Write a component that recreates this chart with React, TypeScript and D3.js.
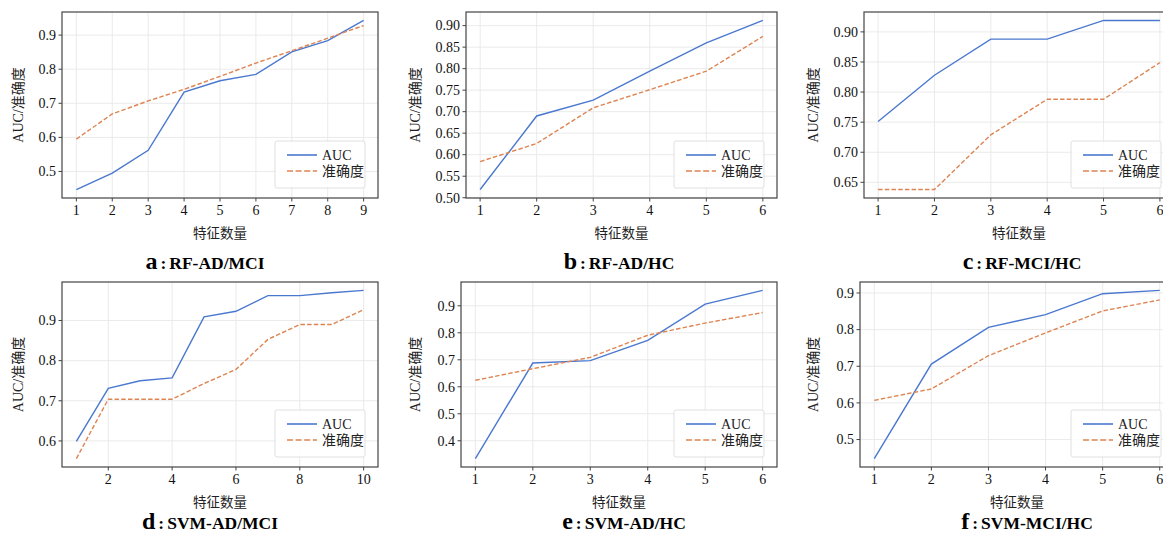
import React from 'react';
import * as d3 from 'd3';

// feature counts
const featA = [1, 2, 3, 4, 5, 6, 7, 8, 9];
const featB = [1, 2, 3, 4, 5, 6];
const featC = [1, 2, 3, 4, 5, 6];
const featD = [1, 2, 3, 4, 5, 6, 7, 8, 9, 10];
const featE = [1, 2, 3, 4, 5, 6];
const featF = [1, 2, 3, 4, 5, 6];

// AUC per panel
const aucA = [0.447, 0.495, 0.562, 0.733, 0.766, 0.785, 0.851, 0.884, 0.943];
const aucB = [0.519, 0.690, 0.727, 0.794, 0.860, 0.912];
const aucC = [0.751, 0.828, 0.888, 0.888, 0.919, 0.919];
const aucD = [0.599, 0.731, 0.750, 0.757, 0.909, 0.923, 0.962, 0.962, 0.969, 0.975];
const aucE = [0.334, 0.688, 0.697, 0.772, 0.906, 0.957];
const aucF = [0.448, 0.706, 0.806, 0.841, 0.898, 0.907];

// 准确度 per panel
const accA = [0.595, 0.669, 0.707, 0.741, 0.779, 0.818, 0.854, 0.891, 0.928];
const accB = [0.584, 0.626, 0.709, 0.751, 0.794, 0.875];
const accC = [0.638, 0.638, 0.729, 0.788, 0.788, 0.849];
const accD = [0.556, 0.704, 0.704, 0.704, 0.743, 0.778, 0.853, 0.890, 0.890, 0.927];
const accE = [0.624, 0.667, 0.709, 0.791, 0.836, 0.875];
const accF = [0.607, 0.638, 0.729, 0.791, 0.851, 0.881];

// tick labels
const xTicksA = [1, 2, 3, 4, 5, 6, 7, 8, 9];
const xTicks6 = [1, 2, 3, 4, 5, 6];
const xTicksD = [2, 4, 6, 8, 10];
const yTicksA = [0.5, 0.6, 0.7, 0.8, 0.9];
const yTicksB = [0.5, 0.55, 0.6, 0.65, 0.7, 0.75, 0.8, 0.85, 0.9];
const yTicksC = [0.65, 0.7, 0.75, 0.8, 0.85, 0.9];
const yTicksD = [0.6, 0.7, 0.8, 0.9];
const yTicksE = [0.4, 0.5, 0.6, 0.7, 0.8, 0.9];
const yTicksF = [0.5, 0.6, 0.7, 0.8, 0.9];

const letters = ['a', 'b', 'c', 'd', 'e', 'f'];
const titles = ['RF-AD/MCI', 'RF-AD/HC', 'RF-MCI/HC', 'SVM-AD/MCI', 'SVM-AD/HC', 'SVM-MCI/HC'];

const BLUE = '#4a78cf';
const ORANGE = '#dd8452';
const FONT = '"Liberation Serif","Times New Roman","Noto Sans CJK SC",serif';

const panels = [
  { xs: featA, auc: aucA, acc: accA, xt: xTicksA, yt: yTicksA, dec: 1, l: 62, r: 378, t: 12, b: 198, ylx: 18, cx: 205, cy: 269 },
  { xs: featB, auc: aucB, acc: accB, xt: xTicks6, yt: yTicksB, dec: 2, l: 466, r: 777, t: 12, b: 198, ylx: 415, cx: 619, cy: 269 },
  { xs: featC, auc: aucC, acc: accC, xt: xTicks6, yt: yTicksC, dec: 2, l: 864, r: 1174, t: 12, b: 198, ylx: 813, cx: 1022, cy: 269 },
  { xs: featD, auc: aucD, acc: accD, xt: xTicksD, yt: yTicksD, dec: 1, l: 62, r: 378, t: 282, b: 467, ylx: 18, cx: 210, cy: 529 },
  { xs: featE, auc: aucE, acc: accE, xt: xTicks6, yt: yTicksE, dec: 1, l: 461, r: 777, t: 282, b: 467, ylx: 415, cx: 624, cy: 529 },
  { xs: featF, auc: aucF, acc: accF, xt: xTicks6, yt: yTicksF, dec: 1, l: 860, r: 1174, t: 282, b: 467, ylx: 813, cx: 1027, cy: 529 },
];

function Panel({ p, i }) {
  const xExt = d3.extent(p.xs);
  const xPad = (xExt[1] - xExt[0]) * 0.05;
  const x = d3.scaleLinear().domain([xExt[0] - xPad, xExt[1] + xPad]).range([p.l, p.r]);
  const all = p.auc.concat(p.acc);
  const yExt = d3.extent(all);
  const yPad = (yExt[1] - yExt[0]) * 0.05;
  const y = d3.scaleLinear().domain([yExt[0] - yPad, yExt[1] + yPad]).range([p.b, p.t]);

  const line = d3.line().x(d => x(d[0])).y(d => y(d[1]));
  const aucPath = line(p.xs.map((v, k) => [v, p.auc[k]]));
  const accPath = line(p.xs.map((v, k) => [v, p.acc[k]]));

  const lw = 90, lh = 47;
  const lx = p.r - 13 - lw;
  const ly = p.b - 10 - lh;
  const midY = (p.t + p.b) / 2;

  return (
    <g fontFamily={FONT}>
      <defs>
        <clipPath id={'clip' + i}>
          <rect x={p.l} y={p.t} width={p.r - p.l} height={p.b - p.t} />
        </clipPath>
      </defs>
      {p.xt.map(v => (
        <line key={'gx' + v} x1={x(v)} x2={x(v)} y1={p.t} y2={p.b} stroke="#e8e8e8" strokeWidth={0.9} />
      ))}
      {p.yt.map(v => (
        <line key={'gy' + v} x1={p.l} x2={p.r} y1={y(v)} y2={y(v)} stroke="#e8e8e8" strokeWidth={0.9} />
      ))}
      <g clipPath={`url(#clip${i})`}>
        <path d={aucPath} fill="none" stroke={BLUE} strokeWidth={1.4} />
        <path d={accPath} fill="none" stroke={ORANGE} strokeWidth={1.4} strokeDasharray="4.5,2.2" />
      </g>
      <rect x={p.l} y={p.t} width={p.r - p.l} height={p.b - p.t} fill="none" stroke="#444" strokeWidth={1.2} />
      {p.xt.map(v => (
        <g key={'tx' + v}>
          <line x1={x(v)} x2={x(v)} y1={p.b} y2={p.b + 3.5} stroke="#444" strokeWidth={1} />
          <text x={x(v)} y={p.b + 17} textAnchor="middle" fontSize={14} fill="#111">{v}</text>
        </g>
      ))}
      {p.yt.map(v => (
        <g key={'ty' + v}>
          <line x1={p.l - 3.5} x2={p.l} y1={y(v)} y2={y(v)} stroke="#444" strokeWidth={1} />
          <text x={p.l - 6} y={y(v) + 4.8} textAnchor="end" fontSize={14} fill="#111">{v.toFixed(p.dec)}</text>
        </g>
      ))}
      <text x={(p.l + p.r) / 2} y={p.b + 40} textAnchor="middle" fontSize={13.5} fill="#222">特征数量</text>
      <text transform={`translate(${p.ylx},${midY}) rotate(-90)`} y={5} textAnchor="middle" fontSize={14} fill="#222">AUC/准确度</text>
      <rect x={lx} y={ly} width={lw} height={lh} rx={2} fill="#fff" fillOpacity={0.85} stroke="#dcdcdc" strokeWidth={0.9} />
      <line x1={lx + 12} x2={lx + 42} y1={ly + 14} y2={ly + 14} stroke={BLUE} strokeWidth={1.6} />
      <text x={lx + 47} y={ly + 19} fontSize={14} fill="#222">AUC</text>
      <line x1={lx + 12} x2={lx + 42} y1={ly + 30} y2={ly + 30} stroke={ORANGE} strokeWidth={1.6} strokeDasharray="6,2.6" />
      <text x={lx + 47} y={ly + 35} fontSize={14} fill="#222">准确度</text>
      <text x={p.cx} y={p.cy} textAnchor="middle" fontWeight="bold" fill="#000">
        <tspan fontSize={24}>{letters[i]}</tspan>
        <tspan fontSize={17.5} dx={3}>:</tspan>
        <tspan fontSize={17.5} dx={3}>{titles[i]}</tspan>
      </text>
    </g>
  );
}

export default function App() {
  return (
    <svg
      width={1163}
      height={534}
      style={{ position: 'absolute', left: 0, top: 0, background: '#fff' }}
    >
      <rect width={1163} height={534} fill="#fff" />
      {panels.map((p, i) => (
        <Panel key={i} p={p} i={i} />
      ))}
    </svg>
  );
}
